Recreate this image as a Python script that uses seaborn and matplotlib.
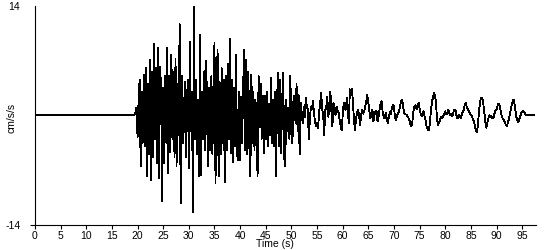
import numpy as np
import pandas as pd
import matplotlib
matplotlib.use("Agg")
import matplotlib.pyplot as plt
import seaborn as sns

# ---- data ----
pre_event_time = [0.0, 19.4]          # s, quiet part before the first arrival
pre_event_accel = [0.0, 0.0]          # cm/s/s
record_start = 19.4                   # s
sample_interval = 0.2                 # s
accel = [
    # 19.4 s - strong shaking
    0.0, 0.4, 1.0, -2.8, 2.0, 4.5, -6.5, 3.0, -3.5, 5.2,
    -4.0, 6.0, -7.8, 4.0, -5.0, 7.1, -8.3, 5.5, -5.3, 9.1,
    -3.0, 6.0, -6.1, 8.6, -8.0, 6.2, 3.0, -11.0, 3.5, -6.1,
    5.0, -3.5, 8.6, -7.4, 5.0, -4.7, 7.7, -3.0, 5.5, -5.3,
    7.2, -6.5, 4.0, -2.5, 11.6, -11.2, 5.0, -3.6, -2.0, 4.3,
    -5.3, 1.5, 4.5, -6.8, 9.4, -2.0, 3.0, -12.4, 14.0, -3.0,
    4.5, -5.0, 2.0, -7.8, 10.3, -7.6, 3.0, -3.0, 5.6, -4.5,
    7.0, -2.0, -6.5, 3.5, -4.5, 5.0, -5.0, 4.0, 9.2, -8.6,
    3.0, 8.3, -7.8, 4.2, -5.0, 6.0, -3.5, 4.5, -8.5, 5.0,
    -4.5, 6.5, -3.0, 9.7, -4.8, 4.5, -6.0, 3.5, -4.0, 7.7,
    -5.0, -5.7, 3.0, -5.7, 2.4, -3.5, 4.0, 8.4, -4.5, 7.1,
    -5.0, 5.5, -4.0, -7.8, 5.2, -3.5, 3.0, -4.5, 2.0, -2.0,
    -7.8, 5.0, -1.5, 4.0, -3.0, 2.5, -4.8, 2.5, -3.0, 3.0,
    -4.0, 1.5, -2.5, 4.8, -3.5, 2.0, -4.0, 3.0, -7.8, 2.0,
    5.4, -4.0, 4.5, -4.8, 2.0, 5.4, -5.5, -6.5, 2.0, -2.0,
    1.0, -3.0, 5.0, -2.5, -3.6, 2.0, 2.5, -1.0, 4.0, -2.0,
    2.6, -5.0, 1.6,
    # ~52 s - coda
    0.3, -1.0, 1.1, -0.3, 2.2, 1.2, 0.7, -3.1, -0.5, 1.1,
    0.8, 1.8, 0.3, -0.8, -1.4, -1.0, -1.6, 0.3, 1.5, 2.9,
    0.8, 0.0, -2.5, 0.7, 1.0, 2.4, -0.2, 1.0, 3.0, 0.5,
    -1.4, 1.6, 0.5, 0.0, 1.1, 0.6, 0.3, -0.5, -1.4, -1.9,
    0.0, 1.6, 1.0, 0.7, 2.2, 0.5, -1.0, 3.3, 3.0, 3.4,
    1.6, -0.5, -1.9, -0.4, 0.3, 0.7, 0.0, -1.2, 0.0, 0.7,
    0.2, 0.5, 1.1, 1.8, 2.6, 1.6, 0.6, -0.4, 0.3, 0.7,
    -0.8, 0.0, 0.5,
    # ~66 s
    0.5, -0.8, -0.2, 0.8, 1.6, 1.8, 0.3, -0.2, -0.4, 0.3,
    -0.4, -1.0, -0.2, 0.4, 0.2, 1.0, 1.3, 1.1, -0.3, -0.6,
    0.0, 0.2, 0.5, 1.2, 1.8, 2.0, 1.0, 0.3, 0.1, 0.1,
    -0.1, -0.3, -0.6, -1.2, -1.4, -0.8, 0.5, 1.1, 1.3, 0.8,
    1.0, 1.6, 0.8, 0.2, -0.1, 0.3, 0.5, -0.2, -0.8, -1.6,
    -1.8, -1.9, -1.0, 0.5, 1.6, 2.3, 2.8, 2.6, 1.5, -0.6,
    -1.2, -0.9, -0.6, -0.2, -0.4, -0.1, 0.2, 0.5, 0.1, 0.3,
    0.7, 0.3, 0.0, 0.2, -0.1, 0.4, 0.7, 0.7, -0.1, -0.4,
    0.1, 0.0, -0.4, 0.0, 0.4, 0.7, 1.3, 1.6, 1.0, 0.8,
    0.5, 0.2, 0.0, -0.1, -0.5, -0.8, -1.5, -2.0, -2.1, -1.0,
    0.6, 1.8, 2.2, 2.2, 1.6, 0.5, -0.8, -1.6, -1.0, -0.4,
    0.0, -0.1, -0.2, -0.4, -0.4, 0.2, 0.7, 0.7, 1.2, 1.5,
    1.2, 0.6, -0.1, -0.4, -0.6, -0.9, -1.2, -1.4, -1.0, -0.5,
    0.2, 0.8, 1.4, 1.9, 1.9, 1.0, 0.0, -0.6, -0.9, -0.6,
    -0.2, 0.2, 0.5, 0.5, 0.4, 0.1, 0.0, 0.0, 0.0, 0.0,
    0.0, 0.0, 0.0, 0.0, 0.0,
]
x_ticks = list(range(0, 100, 5))
y_ticks = [-14, 14]
x_label = "Time (s)"
y_label = "cm/s/s"

# ---- build table ----
time = np.concatenate([pre_event_time,
                       record_start + sample_interval * np.arange(len(accel))])
values = np.concatenate([pre_event_accel, accel])
df = pd.DataFrame({x_label: time, y_label: values})

sns.set_style("ticks")
plt.rcParams["font.family"] = ["Liberation Sans", "DejaVu Sans"]

fig = plt.figure(figsize=(5.5, 2.5), dpi=100)
ax = fig.add_axes([35 / 550, 25 / 250, 500.5 / 550, 219.5 / 250])

sns.lineplot(data=df, x=x_label, y=y_label, ax=ax, color="black",
             linewidth=0.6, estimator=None, sort=False, antialiased=False)

ax.set_xlim(0, 97.6)
ax.set_ylim(-14, 14)
ax.set_xticks(x_ticks)
ax.set_yticks(y_ticks)
ax.set_xticklabels([str(v) for v in x_ticks])
ax.set_yticklabels([str(v) for v in y_ticks])

for s in ("top", "right"):
    ax.spines[s].set_visible(False)
for s in ("left", "bottom"):
    ax.spines[s].set_color("black")
    ax.spines[s].set_linewidth(0.8)

ax.tick_params(axis="x", direction="out", length=3, width=0.8, pad=1,
               labelsize=7.5, colors="black")
ax.tick_params(axis="y", direction="out", length=3.6, width=0.8, pad=7,
               labelsize=7.5, colors="black")
ax.yaxis.get_major_ticks()[1].tick1line.set_visible(False)

ax.set_xlabel(x_label, fontsize=7.5, color="black")
ax.set_ylabel(y_label, fontsize=7.5, color="black")
ax.xaxis.set_label_coords(0.48, -0.066)
ax.yaxis.set_label_coords(-0.036, 0.49)
ax.grid(False)

fig.savefig("out.png", dpi=100)
